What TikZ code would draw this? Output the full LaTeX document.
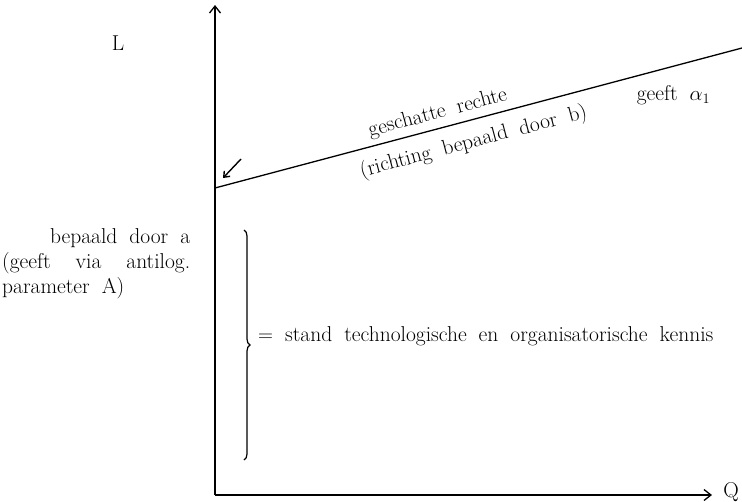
\documentclass[tikz,border=0pt]{standalone}
\usepackage{amsmath}
\usepackage{fontspec}
\usepackage{tikz}
\usetikzlibrary{
  arrows.meta,
  decorations.pathreplacing
}
\newcommand{\widespaces}{\spaceskip=12pt plus 4pt minus 2pt\relax}

\begin{document}
\begin{tikzpicture}[
  x=1pt, y=-1pt,
  font=\fontsize{21.5}{25}\selectfont\widespaces,
  axis/.style={
    line width=1.3pt,
    -{Straight Barb[length=7pt,width=11pt]}
  },
  estimate/.style={line width=1.3pt},
  pointer/.style={
    line width=1.4pt,
    -{Straight Barb[length=5pt,width=8pt]}
  },
  knowledge-brace/.style={
    line width=1.2pt,
    decorate,
    decoration={brace, amplitude=6pt}
  }
]
\useasboundingbox (0,0) rectangle (742,501);

\coordinate (origin) at (215,495);
\coordinate (y-end) at (215,5);
\coordinate (x-end) at (712,495);
\coordinate (line-start) at (215,188);
\coordinate (line-end) at (742,48);

% axes
\draw[axis] (origin) -- (y-end);
\draw[axis] (origin) -- (x-end);
\node (label-L) at (118,43) {L};
\node (label-Q) at (731,492) {Q};

% estimated line
\draw[estimate] (line-start) -- (line-end)
  node (label-rechte) [pos=0.43, sloped, yshift=15pt] {geschatte rechte}
  node (label-richting) [pos=0.48, sloped, yshift=-22pt] {(richting bepaald door b)}
  node (label-alpha) [pos=0.87, yshift=-29pt] {geeft $\alpha_1$};

% intercept
\coordinate (pointer-tail) at (241,159);
\coordinate (pointer-head) at (223,178);
\draw[pointer] (pointer-tail) -- (pointer-head);

\node (label-a) [
  anchor=north west,
  text width=188pt,
  inner sep=0pt,
  align=left
] at (2,228) {\widespaces
  \makebox[188pt][r]{bepaald door a}\\
  \makebox[188pt][s]{(geeft via antilog.}\\
  parameter A)};

% brace
\coordinate (brace-top) at (244,230);
\coordinate (brace-bottom) at (244,460);
\draw[knowledge-brace] (brace-top) -- (brace-bottom);
\node (label-kennis) [anchor=west, inner sep=0pt] at (258,336)
  {$=$ stand technologische en organisatorische kennis};
\end{tikzpicture}
\end{document}
